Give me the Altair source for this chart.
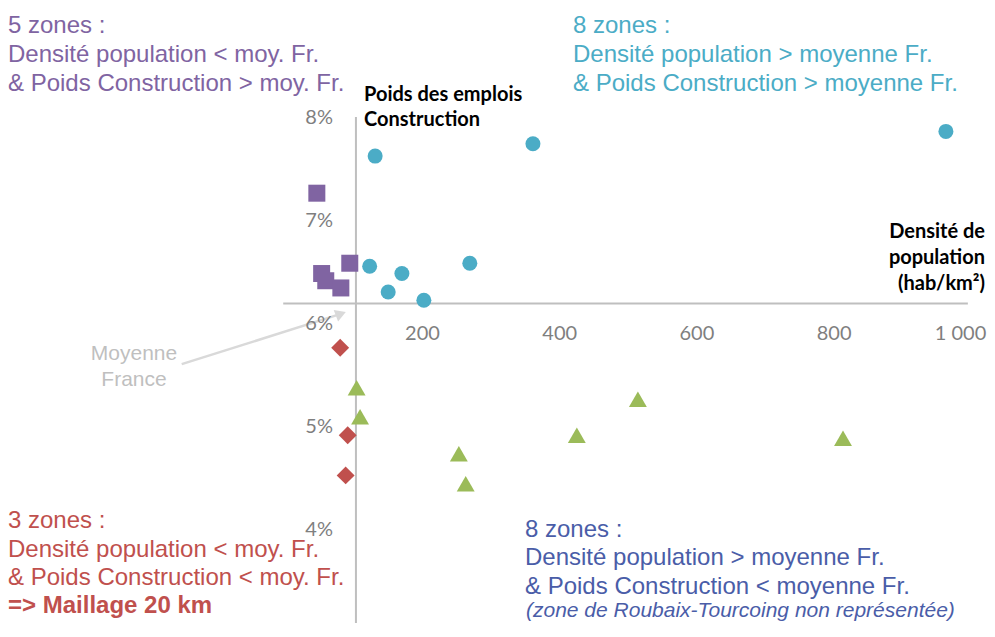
import altair as alt
import pandas as pd

# ---------------- data ----------------
# x = densité de population (hab/km²), y = poids des emplois construction (%)
blue_density = [131, 361, 963, 123, 269, 170, 150, 202]
blue_weight = [7.62, 7.74, 7.86, 6.55, 6.58, 6.48, 6.30, 6.22]
purple_density = [46, 53, 59, 81, 94]
purple_weight = [7.26, 6.48, 6.41, 6.34, 6.58]
red_density = [80, 91, 88]
red_weight = [5.76, 4.91, 4.52]
green_density = [104, 109, 253, 263, 514, 425, 813]
green_weight = [5.37, 5.09, 4.73, 4.44, 5.26, 4.91, 4.88]

x_tick_values = [200, 400, 600, 800, 1000]
x_tick_labels = ["200", "400", "600", "800", "1 000"]
y_tick_values = [4, 5, 6, 7, 8]
y_tick_labels = ["4%", "5%", "6%", "7%", "8%"]
mean_density = 103      # moyenne France (axe vertical)
mean_weight = 6.19      # moyenne France (axe horizontal)

purple_lines = ["5 zones :", "Densité population < moy. Fr.", "& Poids Construction > moy. Fr."]
teal_lines = ["8 zones :", "Densité population > moyenne Fr.", "& Poids Construction > moyenne Fr."]
red_lines = ["3 zones :", "Densité population < moy. Fr.", "& Poids Construction < moy. Fr."]
red_bold = "=> Maillage 20 km"
blue_lines = ["8 zones :", "Densité population > moyenne Fr.", "& Poids Construction < moyenne Fr."]
blue_italic = "(zone de Roubaix-Tourcoing non représentée)"
y_title = ["Poids des emplois", "Construction"]
x_title = ["Densité de", "population", "(hab/km²)"]
mean_label = ["Moyenne", "France"]

# ---------------- layout ----------------
W, H = 979, 615
x_domain = [-404.2, 1022.9]
y_domain = [3.087, 9.058]
xs = alt.Scale(domain=x_domain, nice=False, zero=False)
ys = alt.Scale(domain=y_domain, nice=False, zero=False)

C_BLUE, C_PURPLE, C_RED, C_GREEN = "#4BACC6", "#8064A2", "#C0504D", "#9BBB59"
C_NAVY = "#4A5DA8"
AXIS_GREY = "#BFBFBF"
TICK_GREY = "#7F7F7F"


def X(field):
    return alt.X(field, scale=xs, axis=None)


def Y(field):
    return alt.Y(field, scale=ys, axis=None)


def points(xv, yv, shape, color, size):
    df = pd.DataFrame({"density": xv, "weight": yv})
    return alt.Chart(df).mark_point(shape=shape, filled=True, opacity=1, size=size,
                                    color=color, strokeWidth=0).encode(
        x=X("density:Q"), y=Y("weight:Q"))


# axis lines crossing at the French averages
vline = alt.Chart(pd.DataFrame({"x": [mean_density], "y": [y_domain[0]], "y2": [8]})).mark_rule(
    color=AXIS_GREY, strokeWidth=2).encode(x=X("x:Q"), y=Y("y:Q"), y2="y2:Q")
hline = alt.Chart(pd.DataFrame({"x": [-3], "x2": [995], "y": [mean_weight]})).mark_rule(
    color=AXIS_GREY, strokeWidth=2).encode(x=X("x:Q"), x2="x2:Q", y=Y("y:Q"))


# tick labels on the crossing axes
def x_tick_layer(values, labels, align, dx):
    df = pd.DataFrame({"v": values, "lab": labels, "y": [mean_weight] * len(values)})
    return alt.Chart(df).mark_text(font="Lato", fontSize=20, color=TICK_GREY, baseline="middle",
                                   align=align, dx=dx, dy=31).encode(
        x=X("v:Q"), y=Y("y:Q"), text="lab:N")


x_ticks_main = x_tick_layer(x_tick_values[:-1], x_tick_labels[:-1], "center", 0)
x_ticks_last = x_tick_layer(x_tick_values[-1:], x_tick_labels[-1:], "right", 15)
y_ticks = alt.Chart(pd.DataFrame({"v": y_tick_values, "lab": y_tick_labels,
                                  "x": [mean_density] * len(y_tick_values)})).mark_text(
    font="Lato", fontSize=20, color=TICK_GREY, baseline="middle", align="right", dx=-23, dy=1).encode(
    x=X("x:Q"), y=Y("v:Q"), text="lab:N")

# arrow "Moyenne France"
arrow_line = alt.Chart(pd.DataFrame({"x": [-151], "y": [5.60], "x2": [81], "y2": [6.088]})).mark_rule(
    color="#D9D9D9", strokeWidth=2.5).encode(x=X("x:Q"), y=Y("y:Q"), x2="x2:Q", y2="y2:Q")
arrow_head = alt.Chart(pd.DataFrame({"x": [81], "y": [6.088]})).mark_point(
    shape="triangle-up", filled=True, opacity=1, size=150, color="#D9D9D9", angle=69,
    strokeWidth=0).encode(x=X("x:Q"), y=Y("y:Q"))


def text_layer(lines, page_x, page_ys, color, font="Liberation Sans", size=24, weight="normal",
               style="normal", align="left"):
    df = pd.DataFrame({"t": lines, "px": [page_x - 8] * len(lines), "py": [v - 8 for v in page_ys]})
    return alt.Chart(df).mark_text(font=font, fontSize=size, fontWeight=weight, fontStyle=style,
                                   align=align, baseline="alphabetic", color=color).encode(
        x=alt.X("px:Q", scale=None, axis=None), y=alt.Y("py:Q", scale=None, axis=None), text="t:N")


texts = [
    text_layer(purple_lines, 8, [33, 62, 91], C_PURPLE),
    text_layer(teal_lines, 573, [33, 62, 91], C_BLUE),
    text_layer(red_lines, 8, [528, 557, 585], C_RED),
    text_layer([red_bold], 8, [613], C_RED, weight="bold"),
    text_layer(blue_lines, 525, [537, 565, 594], C_NAVY),
    text_layer([blue_italic], 526, [617], C_NAVY, size=21, style="italic"),
    text_layer(y_title, 364, [101, 126], "#000000", font="Lato", size=20, weight="bold"),
    text_layer(x_title, 985, [238, 264, 290], "#000000", font="Lato", size=20, weight="bold",
               align="right"),
    text_layer(mean_label, 134, [360, 386], "#BFBFBF", size=21, align="center"),
]

chart = alt.layer(
    vline, hline, arrow_line, arrow_head, x_ticks_main, x_ticks_last, y_ticks,
    points(blue_density, blue_weight, "circle", C_BLUE, 225),
    points(purple_density, purple_weight, "square", C_PURPLE, 289),
    points(red_density, red_weight, "diamond", C_RED, 320),
    points(green_density, green_weight, "triangle-up", C_GREEN, 320),
    *texts,
).properties(
    width=W, height=H, padding=0,
    autosize=alt.AutoSizeParams(type="none"),
    background="white",
).configure_view(stroke=None)

chart.save("out.html", embed_options={"renderer": "svg", "actions": False})
